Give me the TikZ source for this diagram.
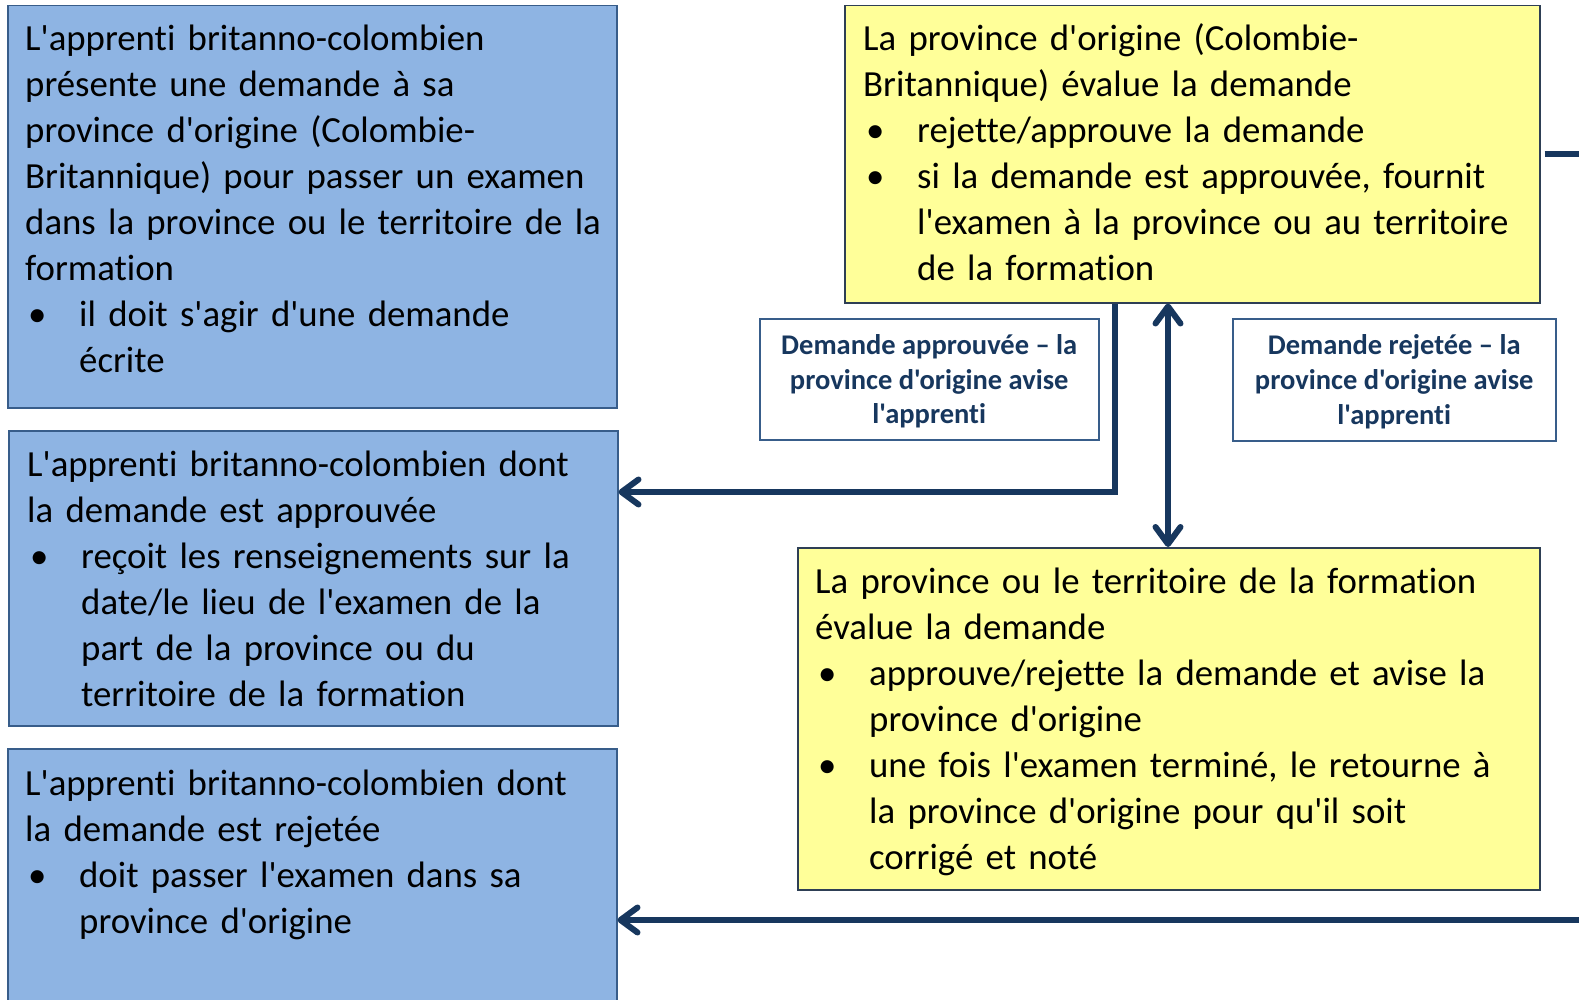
\documentclass[tikz,border=0pt]{standalone}
\usepackage{fontspec}
\newfontfamily\calib{Carlito}[Ligatures=NoCommon]
\usetikzlibrary{arrows.meta}
\definecolor{boxblue}{HTML}{8EB4E3}
\definecolor{boxyellow}{HTML}{FFFF99}
\definecolor{edgeblue}{HTML}{385D8A}
\definecolor{edgedark}{HTML}{2E3F55}
\definecolor{navy}{HTML}{17375E}
\newcommand\bitem[1]{\makebox[54pt][l]{\hspace{3pt}•}#1}
\newcommand\bcont[1]{\hspace*{54pt}#1}
\tikzset{
  bluebox/.style={draw=edgeblue, fill=boxblue, line width=1.5pt, anchor=north west, inner sep=0pt},
  yellowbox/.style={draw=edgedark, fill=boxyellow, line width=1.5pt, anchor=north west, inner sep=0pt},
  lblbox/.style={draw=edgeblue, fill=white, line width=1.5pt, anchor=north west, inner sep=0pt,
    align=center, text=navy, font=\calib\bfseries\fontsize{28.5}{34.7}\selectfont},
  bodytext/.style={anchor=base west, inner sep=0pt, text width=720pt, align=left,
    font=\calib\fontsize{36.8}{46}\selectfont},
  conn/.style={draw=navy, line width=6pt},
  tipa/.tip={Straight Barb[length=17pt,width=25pt,round]},
  arr/.style={-tipa},
  darr/.style={tipa-tipa}
}
\begin{document}
\begin{tikzpicture}[x=1pt,y=-1pt]
\useasboundingbox (0,0) rectangle (1579,1000);
\fill[white] (0,0) rectangle (1579,1000);

% boxes
\node[bluebox, minimum width=609pt, minimum height=402pt] (b1) at (7,5) {};
\node[bluebox, minimum width=609pt, minimum height=295pt] (b2) at (8,430) {};
\node[bluebox, minimum width=609pt, minimum height=270pt] (b3) at (7,748) {};
\node[yellowbox, minimum width=695pt, minimum height=297pt] (y1) at (844,5) {};
\node[yellowbox, minimum width=742pt, minimum height=342pt] (y2) at (797,547) {};

% texts
\node[bodytext] (t1) at (25,51) {L'apprenti britanno-colombien\\
présente une demande à sa\\
province d'origine (Colombie-\\
Britannique) pour passer un examen\\
dans la province ou le territoire de la\\
formation\\
\bitem{il doit s'agir d'une demande}\\
\bcont{écrite}};

\node[bodytext] (t2) at (27,476) {L'apprenti britanno-colombien dont\\
la demande est approuvée\\
\bitem{reçoit les renseignements sur la}\\
\bcont{date/le lieu de l'examen de la}\\
\bcont{part de la province ou du}\\
\bcont{territoire de la formation}};

\node[bodytext] (t3) at (25,795) {L'apprenti britanno-colombien dont\\
la demande est rejetée\\
\bitem{doit passer l'examen dans sa}\\
\bcont{province d'origine}};

\node[bodytext] (ty1) at (863,51) {La province d'origine (Colombie-\\
Britannique) évalue la demande\\
\bitem{rejette/approuve la demande}\\
\bitem{si la demande est approuvée, fournit}\\
\bcont{l'examen à la province ou au territoire}\\
\bcont{de la formation}};

\node[bodytext] (ty2) at (815,593) {La province ou le territoire de la formation\\
évalue la demande\\
\bitem{approuve/rejette la demande et avise la}\\
\bcont{province d'origine}\\
\bitem{une fois l'examen terminé, le retourne à}\\
\bcont{la province d'origine pour qu'il soit}\\
\bcont{corrigé et noté}};

% labels
\node[lblbox, minimum width=339pt, minimum height=121pt] (l1) at (759,318)
  {\rule{0pt}{24pt}Demande approuvée – la\\province d'origine avise\\l'apprenti};
\node[lblbox, minimum width=323pt, minimum height=122pt] (l2) at (1232,318)
  {\rule{0pt}{24pt}Demande rejetée – la\\province d'origine avise\\l'apprenti};

% connectors
\coordinate (c1) at (1115,492);
\coordinate (c2) at (1168,400);
\coordinate (c3) at (1600,153);
\coordinate (c4) at (1600,920);
\draw[conn,arr] (y1.south -| c1) -- (c1) -- (c1 -| b2.east);
\draw[conn,darr] (y1.south -| c2) -- (y2.north -| c2);
\draw[conn] ([xshift=4pt]y1.east) -- (y1.east -| c3);
\draw[conn,arr] (c4) -- (c4 -| b3.east);
\end{tikzpicture}
\end{document}
